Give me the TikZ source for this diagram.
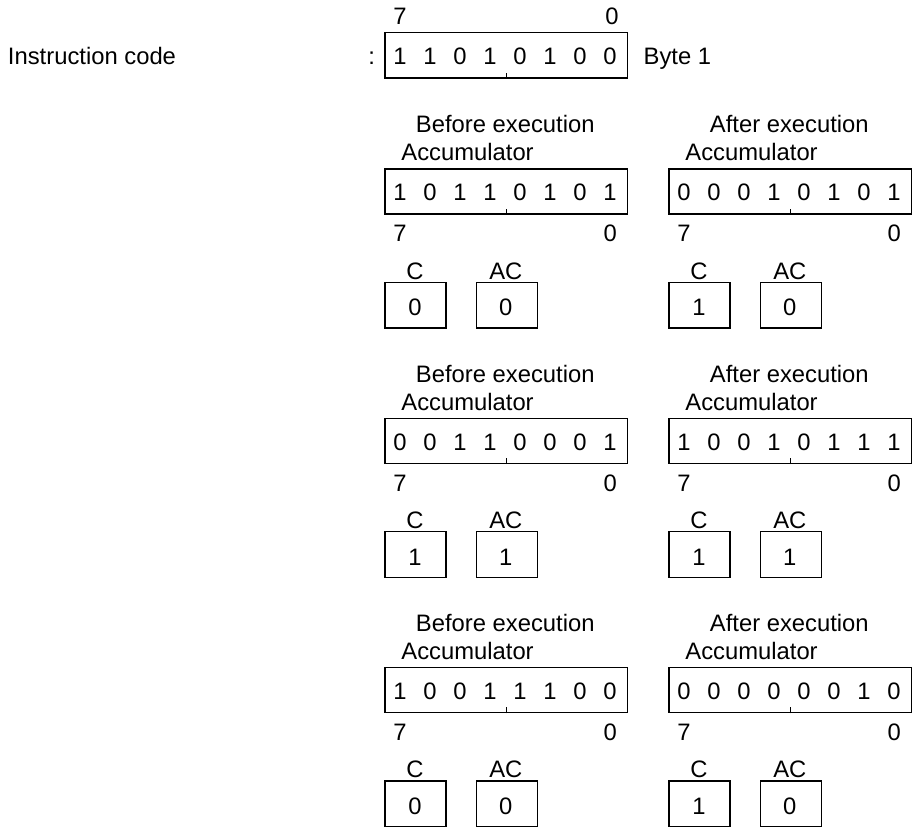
\documentclass[tikz,border=0pt]{standalone}
\usepackage{fontspec}
\setmainfont{Liberation Sans}
\newcommand{\accblock}[7]{%
  \node[txt] (#1title) at (#2+121,#3-35.5) {#4};
  \node[ltxt] (#1acc) at (#2+16.4,#3-7.6) {Accumulator};
  \node[reg] (#1reg) at (#2,#3) {};
  \draw (#1reg.south) -- ++(0,-6);
  \foreach \b [count=\i from 0] in {#5} {
    \node[txt] (#1b\i) at ({#2+15.7+30*\i},{#3+32.4}) {\b};
  }
  \node[txt] (#1hi) at (#2+15.7,#3+73.4) {7};
  \node[txt] (#1lo) at (#2+226,#3+73.4) {0};
  \node[txt] (#1clab) at (#2+30.7,#3+110.7) {C};
  \node[flag] (#1cbox) at (#2,#3+113.4) {};
  \node[txt] (#1cval) at (#2+30.7,#3+147.4) {#6};
  \node[txt] (#1aclab) at (#2+121.5,#3+110.7) {AC};
  \node[flag] (#1acbox) at (#2+91.4,#3+113.4) {};
  \node[txt] (#1acval) at (#2+121.5,#3+147.4) {#7};
}
\begin{document}
\begin{tikzpicture}[x=1pt,y=-1pt,line width=1.4pt,
  txt/.style={inner sep=0pt,anchor=base,font=\fontsize{23.8}{28}\selectfont},
  ltxt/.style={txt,anchor=base west},
  reg/.style={draw,rectangle,inner sep=0pt,anchor=north west,minimum width=242.4pt,minimum height=45pt},
  flag/.style={draw,rectangle,inner sep=0pt,anchor=north west,minimum width=60.8pt,minimum height=45.5pt}]
\useasboundingbox (0,0) rectangle (914,827);

% instruction code
\node[ltxt] (ic) at (7.3,64.3) {Instruction code};
\node[txt] (colon) at (371.7,64.3) {:};
\node[reg,minimum height=45.6pt] (ireg) at (384.3,31.7) {};
\draw (ireg.south) -- ++(0,-6);
\foreach \b [count=\i from 0] in {1,1,0,1,0,1,0,0} {
  \node[txt] (ib\i) at ({400+30*\i},64.3) {\b};
}
\node[txt] (ihi) at (400,24) {7};
\node[txt] (ilo) at (612,24) {0};
\node[ltxt] (byte) at (643,64.3) {Byte 1};

% blocks
\accblock{ba}{384.3}{168.3}{Before execution}{1,0,1,1,0,1,0,1}{0}{0}
\accblock{aa}{668.3}{168.3}{After execution}{0,0,0,1,0,1,0,1}{1}{0}
\accblock{bb}{384.3}{417.6}{Before execution}{0,0,1,1,0,0,0,1}{1}{1}
\accblock{ab}{668.3}{417.6}{After execution}{1,0,0,1,0,1,1,1}{1}{1}
\accblock{bc}{384.3}{666.9}{Before execution}{1,0,0,1,1,1,0,0}{0}{0}
\accblock{ac}{668.3}{666.9}{After execution}{0,0,0,0,0,0,1,0}{1}{0}
\end{tikzpicture}
\end{document}
